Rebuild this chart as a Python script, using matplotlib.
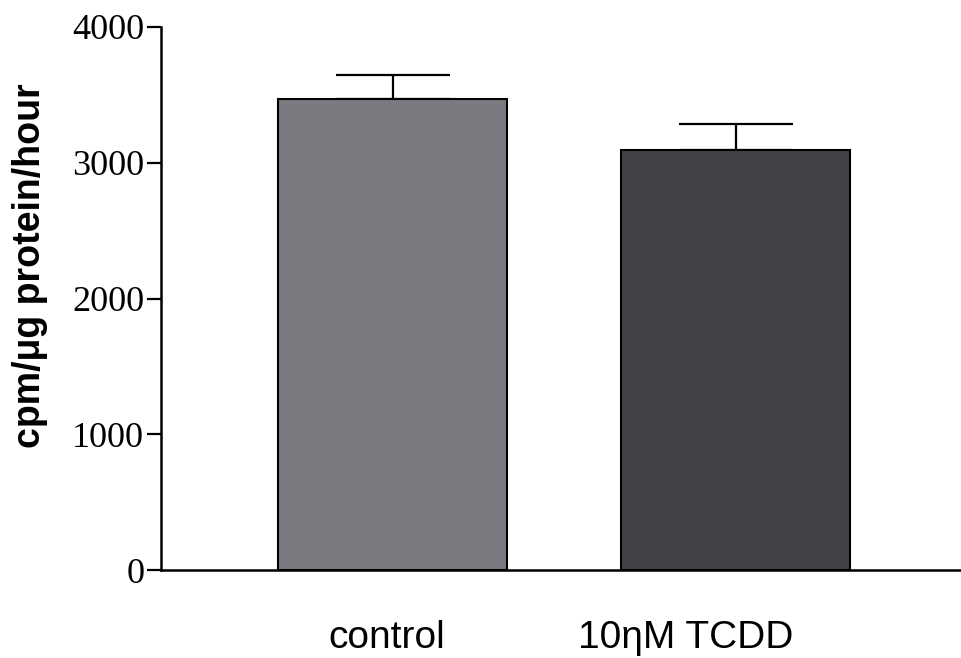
import matplotlib
matplotlib.use("Agg")
import matplotlib.pyplot as plt
import matplotlib.transforms as mtransforms

# 数据：两组的平均值和上方误差
groups = ["control", "10ηM TCDD"]
means = [3470, 3095]
errors = [175, 190]
bar_colors = ["#7a7a80", "#424147"]

fig = plt.figure(figsize=(9.62, 6.58), dpi=100)
ax = fig.add_axes([0.1674, 0.1337, 0.8326, 0.8253])

x = list(range(len(groups)))
ax.bar(x, means, width=0.667, color=bar_colors, edgecolor="black", linewidth=1.5, zorder=2)
# 只画上方误差线
ax.errorbar(x, means, yerr=[[0] * len(errors), errors], fmt="none",
            ecolor="black", elinewidth=1.6, capsize=41, capthick=1.6, zorder=1)

ax.set_xlim(-0.675, 1.66)
ax.set_ylim(0, 4000)
ax.set_yticks([0, 1000, 2000, 3000, 4000])

for side in ["top", "right"]:
    ax.spines[side].set_visible(False)
for side in ["left", "bottom"]:
    ax.spines[side].set_linewidth(1.8)

ax.tick_params(axis="y", length=10, width=1.6, pad=2, labelsize=26)
for lab in ax.get_yticklabels():
    lab.set_fontfamily("Liberation Serif")

ax.set_xticks(x)
ax.set_xticklabels(groups, fontsize=28, fontfamily="Liberation Sans")
ax.tick_params(axis="x", length=0, pad=36)
# 第二个标签稍微左移
offsets = [-6, -50]
for lab, dx in zip(ax.get_xticklabels(), offsets):
    lab.set_transform(lab.get_transform() + mtransforms.ScaledTranslation(dx / 100, 0, fig.dpi_scale_trans))

ax.set_ylabel("cpm/μg protein/hour", fontsize=27, fontweight="bold",
              fontfamily="Liberation Sans")
ax.yaxis.set_label_coords(-0.141, 0.56)

fig.savefig("out.png", dpi=100)
